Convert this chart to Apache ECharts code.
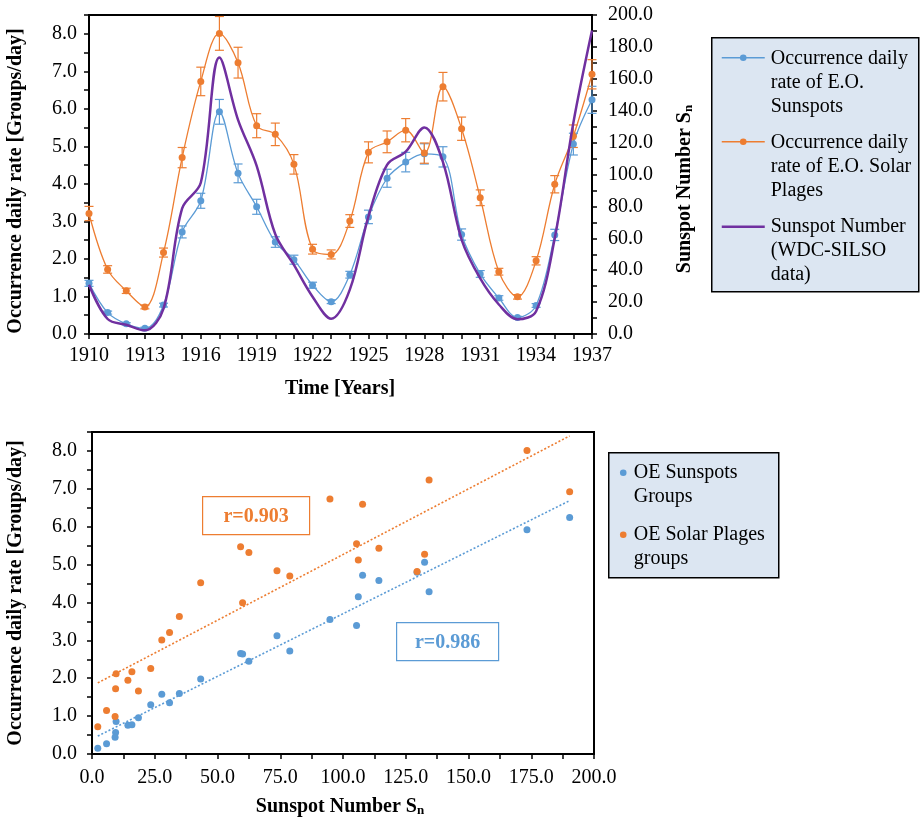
<!DOCTYPE html>
<html>
<head>
<meta charset="utf-8">
<script src="https://cdn.jsdelivr.net/npm/echarts@6/dist/echarts.min.js"></script>
<style>
  html, body { margin: 0; padding: 0; background: #fff; }
  #chart { width: 923px; height: 819px; }
</style>
</head>
<body>
<div id="chart"></div>
<script>
// Yearly values, 1910-1937
const years = [1910, 1911, 1912, 1913, 1914, 1915, 1916, 1917, 1918, 1919,
               1920, 1921, 1922, 1923, 1924, 1925, 1926, 1927, 1928, 1929,
               1930, 1931, 1932, 1933, 1934, 1935, 1936, 1937];

// Yearly mean sunspot number (WDC-SILSO)
const sunspotNumber = [30.9, 9.4, 5.8, 2.3, 15.9, 78.8, 94.8, 173.3, 134.3, 105.4,
                       62.5, 43.3, 23.4, 9.6, 27.8, 73.7, 106.1, 114.3, 129.5, 107.8,
                       59.2, 34.8, 18.5, 9.2, 14.3, 60.0, 132.5, 190.3];

// Occurrence daily rate of E.O. sunspot groups and its error
const sunspotRate = [1.35, 0.57, 0.27, 0.15, 0.77, 2.72, 3.55, 5.92, 4.28, 3.39,
                     2.45, 1.98, 1.30, 0.86, 1.58, 3.12, 4.15, 4.58, 4.80, 4.72,
                     2.65, 1.60, 0.96, 0.44, 0.76, 2.64, 5.06, 6.24];
const sunspotRateErr = [0.08, 0.04, 0.03, 0.03, 0.05, 0.16, 0.20, 0.33, 0.25, 0.20,
                        0.14, 0.12, 0.08, 0.05, 0.09, 0.18, 0.24, 0.26, 0.27, 0.27,
                        0.15, 0.09, 0.06, 0.03, 0.05, 0.15, 0.29, 0.36];

// Occurrence daily rate of E.O. solar plage groups and its error
const plageRate = [3.21, 1.72, 1.15, 0.72, 2.17, 4.70, 6.73, 8.01, 7.23, 5.55,
                   5.32, 4.52, 2.26, 2.12, 3.01, 4.84, 5.12, 5.43, 4.82, 6.59,
                   5.47, 3.63, 1.66, 0.99, 1.95, 3.99, 5.27, 6.92];
const plageRateErr = [0.19, 0.10, 0.07, 0.05, 0.12, 0.27, 0.38, 0.45, 0.41, 0.32,
                      0.30, 0.26, 0.13, 0.12, 0.17, 0.28, 0.29, 0.31, 0.27, 0.38,
                      0.31, 0.21, 0.09, 0.06, 0.11, 0.23, 0.30, 0.39];

// Correlation coefficients shown on the scatter plot
const rPlage = 'r=0.903';
const rSunspot = 'r=0.986';

const BLUE = '#5b9bd5';
const ORANGE = '#ed7d31';
const PURPLE = '#7030a0';
const FONT = '"Liberation Serif", "Times New Roman", serif';

// Least-squares straight line through (xs, ys), spanning the x range of the data
function trendLine(xs, ys) {
  const n = xs.length;
  let sx = 0, sy = 0, sxx = 0, sxy = 0;
  for (let i = 0; i < n; i++) {
    sx += xs[i]; sy += ys[i]; sxx += xs[i] * xs[i]; sxy += xs[i] * ys[i];
  }
  const slope = (n * sxy - sx * sy) / (n * sxx - sx * sx);
  const intercept = (sy - slope * sx) / n;
  const x0 = Math.min(...xs), x1 = Math.max(...xs);
  return [[x0, intercept + slope * x0], [x1, intercept + slope * x1]];
}

function errorData(vals, errs) {
  return years.map((y, i) => [y, vals[i] - errs[i], vals[i] + errs[i]]);
}

function errorBarSeries(vals, errs, color) {
  return {
    type: 'custom',
    xAxisIndex: 0,
    yAxisIndex: 0,
    z: 3,
    silent: true,
    data: errorData(vals, errs),
    encode: { x: 0, y: [1, 2] },
    renderItem: function (params, api) {
      const lo = api.coord([api.value(0), api.value(1)]);
      const hi = api.coord([api.value(0), api.value(2)]);
      const w = 4.5;
      const style = { stroke: color, lineWidth: 1.2 };
      return {
        type: 'group',
        children: [
          { type: 'line', shape: { x1: lo[0], y1: lo[1], x2: hi[0], y2: hi[1] }, style: style },
          { type: 'line', shape: { x1: lo[0] - w, y1: lo[1], x2: lo[0] + w, y2: lo[1] }, style: style },
          { type: 'line', shape: { x1: hi[0] - w, y1: hi[1], x2: hi[0] + w, y2: hi[1] }, style: style }
        ]
      };
    }
  };
}

const axisLineStyle = { show: true, lineStyle: { color: '#000', width: 2 } };
const tickStyle = { show: true, length: 5, lineStyle: { color: '#000', width: 1.5 } };
const labelBase = { fontFamily: FONT, fontSize: 20, color: '#000' };

function oneDecimal(v) { return v.toFixed(1); }

const chart = echarts.init(document.getElementById('chart'), null, { renderer: 'canvas' });

const legendText = { fontFamily: FONT, fontSize: 20, fill: '#000', lineHeight: 24 };

chart.setOption({
  animation: false,
  backgroundColor: '#fff',
  grid: [
    { left: 89, top: 15, width: 503, height: 319, show: true, borderColor: '#000', borderWidth: 2, backgroundColor: 'transparent' },
    { left: 92, top: 432, width: 502, height: 322, show: true, borderColor: '#000', borderWidth: 2, backgroundColor: 'transparent' }
  ],
  xAxis: [
    {
      gridIndex: 0, type: 'value', min: 1910, max: 1937, interval: 1,
      axisLine: axisLineStyle, axisTick: tickStyle, splitLine: { show: false },
      axisLabel: Object.assign({}, labelBase, {
        margin: 12,
        formatter: v => ((v - 1910) % 3 === 0 ? String(v) : '')
      })
    },
    {
      gridIndex: 1, type: 'value', min: 0, max: 200, interval: 12.5,
      axisLine: axisLineStyle, axisTick: tickStyle, splitLine: { show: false },
      axisLabel: Object.assign({}, labelBase, {
        margin: 14,
        formatter: v => (v % 25 === 0 ? oneDecimal(v) : '')
      })
    }
  ],
  yAxis: [
    {
      gridIndex: 0, type: 'value', min: 0, max: 8.5, interval: 0.5,
      axisLine: axisLineStyle, axisTick: tickStyle, splitLine: { show: false },
      axisLabel: Object.assign({}, labelBase, {
        margin: 12,
        formatter: v => (v % 1 === 0 && v <= 8 ? oneDecimal(v) : '')
      })
    },
    {
      gridIndex: 0, type: 'value', position: 'right', min: 0, max: 200, interval: 10,
      axisLine: axisLineStyle, axisTick: tickStyle, splitLine: { show: false },
      axisLabel: Object.assign({}, labelBase, {
        margin: 16,
        formatter: v => (v % 20 === 0 ? oneDecimal(v) : '')
      })
    },
    {
      gridIndex: 1, type: 'value', min: 0, max: 8.5, interval: 0.5,
      axisLine: axisLineStyle, axisTick: tickStyle, splitLine: { show: false },
      axisLabel: Object.assign({}, labelBase, {
        margin: 15,
        formatter: v => (v % 1 === 0 && v <= 8 ? oneDecimal(v) : '')
      })
    }
  ],
  series: [
    errorBarSeries(sunspotRate, sunspotRateErr, BLUE),
    errorBarSeries(plageRate, plageRateErr, ORANGE),
    {
      name: 'Occurrence daily rate of E.O. Sunspots',
      type: 'line', xAxisIndex: 0, yAxisIndex: 0, z: 4,
      data: years.map((y, i) => [y, sunspotRate[i]]),
      smooth: 0.35, symbol: 'circle', symbolSize: 7,
      itemStyle: { color: BLUE }, lineStyle: { color: BLUE, width: 1.3 }
    },
    {
      name: 'Occurrence daily rate of E.O. Solar Plages',
      type: 'line', xAxisIndex: 0, yAxisIndex: 0, z: 4,
      data: years.map((y, i) => [y, plageRate[i]]),
      smooth: 0.35, symbol: 'circle', symbolSize: 7,
      itemStyle: { color: ORANGE }, lineStyle: { color: ORANGE, width: 1.3 }
    },
    {
      name: 'Sunspot Number (WDC-SILSO data)',
      type: 'line', xAxisIndex: 0, yAxisIndex: 1, z: 5,
      data: years.map((y, i) => [y, sunspotNumber[i]]),
      smooth: 0.35, showSymbol: false,
      itemStyle: { color: PURPLE }, lineStyle: { color: PURPLE, width: 2.5 }
    },
    {
      name: 'OE Sunspots trend',
      type: 'line', xAxisIndex: 1, yAxisIndex: 2, z: 2,
      data: trendLine(sunspotNumber, sunspotRate),
      showSymbol: false, silent: true,
      lineStyle: { color: BLUE, width: 1.6, type: [2, 2] }
    },
    {
      name: 'OE Solar Plages trend',
      type: 'line', xAxisIndex: 1, yAxisIndex: 2, z: 2,
      data: trendLine(sunspotNumber, plageRate),
      showSymbol: false, silent: true,
      lineStyle: { color: ORANGE, width: 1.6, type: [2, 2] }
    },
    {
      name: 'OE Sunspots Groups',
      type: 'scatter', xAxisIndex: 1, yAxisIndex: 2, z: 4,
      data: sunspotNumber.map((s, i) => [s, sunspotRate[i]]),
      symbolSize: 7, itemStyle: { color: BLUE, opacity: 1 }
    },
    {
      name: 'OE Solar Plages groups',
      type: 'scatter', xAxisIndex: 1, yAxisIndex: 2, z: 4,
      data: sunspotNumber.map((s, i) => [s, plageRate[i]]),
      symbolSize: 7, itemStyle: { color: ORANGE, opacity: 1 }
    }
  ],
  graphic: [
    // Axis titles
    {
      type: 'text', x: 16, y: 181, rotation: Math.PI / 2,
      style: { text: 'Occurrence daily rate [Groups/day]', font: 'bold 20px ' + FONT, fill: '#000', align: 'center', verticalAlign: 'middle' }
    },
    {
      type: 'text', x: 340, y: 389,
      style: { text: 'Time [Years]', font: 'bold 20px ' + FONT, fill: '#000', align: 'center', verticalAlign: 'middle' }
    },
    {
      type: 'text', x: 683, y: 189, rotation: Math.PI / 2,
      style: {
        text: '{a|Sunspot Number S}{b|n}', align: 'center', verticalAlign: 'middle',
        rich: {
          a: { fontFamily: FONT, fontWeight: 'bold', fontSize: 20, fill: '#000', lineHeight: 24, verticalAlign: 'bottom' },
          b: { fontFamily: FONT, fontWeight: 'bold', fontSize: 13, fill: '#000', lineHeight: 24, verticalAlign: 'bottom', padding: [0, 0, 0, 0] }
        }
      }
    },
    {
      type: 'text', x: 16, y: 593, rotation: Math.PI / 2,
      style: { text: 'Occurrence daily rate [Groups/day]', font: 'bold 20px ' + FONT, fill: '#000', align: 'center', verticalAlign: 'middle' }
    },
    {
      type: 'text', x: 340, y: 805,
      style: {
        text: '{a|Sunspot Number S}{b|n}', align: 'center', verticalAlign: 'middle',
        rich: {
          a: { fontFamily: FONT, fontWeight: 'bold', fontSize: 20, fill: '#000', lineHeight: 24, verticalAlign: 'bottom' },
          b: { fontFamily: FONT, fontWeight: 'bold', fontSize: 13, fill: '#000', lineHeight: 24, verticalAlign: 'bottom' }
        }
      }
    },
    // Time-series legend
    {
      type: 'group', left: 711, top: 37,
      children: [
        { type: 'rect', shape: { x: 0, y: 0, width: 207, height: 254 }, style: { fill: '#dce6f2', stroke: '#000', lineWidth: 1.5 } },
        { type: 'line', shape: { x1: 10, y1: 20, x2: 53, y2: 20 }, style: { stroke: BLUE, lineWidth: 1.3 } },
        { type: 'circle', shape: { cx: 31.5, cy: 20, r: 3.3 }, style: { fill: BLUE } },
        { type: 'text', x: 59, y: 9, style: Object.assign({ text: 'Occurrence daily\nrate of E.O.\nSunspots' }, legendText) },
        { type: 'line', shape: { x1: 10, y1: 104, x2: 53, y2: 104 }, style: { stroke: ORANGE, lineWidth: 1.3 } },
        { type: 'circle', shape: { cx: 31.5, cy: 104, r: 3.3 }, style: { fill: ORANGE } },
        { type: 'text', x: 59, y: 93, style: Object.assign({ text: 'Occurrence daily\nrate of E.O. Solar\nPlages' }, legendText) },
        { type: 'line', shape: { x1: 10, y1: 189, x2: 53, y2: 189 }, style: { stroke: PURPLE, lineWidth: 2.5 } },
        { type: 'text', x: 59, y: 177, style: Object.assign({ text: 'Sunspot Number\n(WDC-SILSO\ndata)' }, legendText) }
      ]
    },
    // Scatter legend
    {
      type: 'group', left: 608, top: 452,
      children: [
        { type: 'rect', shape: { x: 0, y: 0, width: 170, height: 125 }, style: { fill: '#dce6f2', stroke: '#000', lineWidth: 1.5 } },
        { type: 'circle', shape: { cx: 14.5, cy: 20, r: 3.3 }, style: { fill: BLUE } },
        { type: 'text', x: 25, y: 8, style: Object.assign({ text: 'OE Sunspots\nGroups' }, legendText) },
        { type: 'circle', shape: { cx: 14.5, cy: 82, r: 3.3 }, style: { fill: ORANGE } },
        { type: 'text', x: 25, y: 70, style: Object.assign({ text: 'OE Solar Plages\ngroups' }, legendText) }
      ]
    },
    // Correlation labels
    {
      type: 'group', left: 202, top: 496,
      children: [
        { type: 'rect', shape: { x: 0, y: 0, width: 107, height: 38 }, style: { fill: '#fff', stroke: ORANGE, lineWidth: 1.2 } },
        { type: 'text', x: 53.5, y: 20, style: { text: rPlage, font: 'bold 20px ' + FONT, fill: ORANGE, align: 'center', verticalAlign: 'middle' } }
      ]
    },
    {
      type: 'group', left: 396, top: 622,
      children: [
        { type: 'rect', shape: { x: 0, y: 0, width: 102, height: 38 }, style: { fill: '#fff', stroke: BLUE, lineWidth: 1.2 } },
        { type: 'text', x: 51, y: 20, style: { text: rSunspot, font: 'bold 20px ' + FONT, fill: BLUE, align: 'center', verticalAlign: 'middle' } }
      ]
    }
  ]
});
</script>
</body>
</html>
